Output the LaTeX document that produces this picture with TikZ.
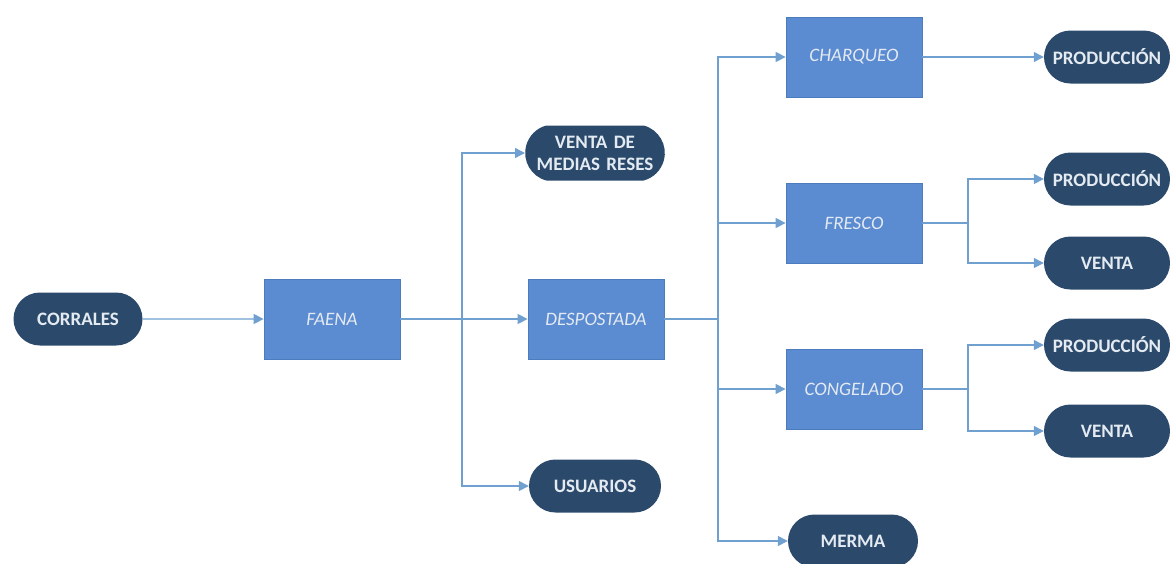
\documentclass[tikz,border=0pt]{standalone}
\usepackage{fontspec}
\setmainfont{Carlito}
\usetikzlibrary{arrows.meta,shapes.misc}

\definecolor{pillfill}{HTML}{2B4A6B}
\definecolor{boxfill}{HTML}{5B8BD1}
\definecolor{boxedge}{HTML}{4C7BBE}
\definecolor{linkc}{HTML}{6FA0D0}
\definecolor{txtc}{HTML}{E4EAF1}

\begin{document}
\begin{tikzpicture}[x=1pt,y=-1pt,>={Triangle[length=10pt,width=10pt]},
  pill/.style={rounded rectangle,fill=pillfill,text=txtc,font=\fontsize{19}{22}\selectfont\bfseries,
    minimum width=136pt,minimum height=53pt,inner sep=2pt,align=center},
  stage/.style={rectangle,fill=boxfill,draw=boxedge,line width=0.8pt,text=txtc,
    font=\fontsize{19}{22}\selectfont\itshape,minimum width=136pt,minimum height=80pt},
  link/.style={draw=linkc,line width=1.4pt}]
  \useasboundingbox (0,0) rectangle (1170,563);
  % first column
  \node[pill,minimum width=133pt] (corrales) at (78,319) {CORRALES};
  \node[stage] (faena) at (332,319) {FAENA};
  % second column
  \node[pill,minimum height=55pt,text width=124pt,rounded rectangle arc length=150] (medias) at (595,153) {VENTA DE\\MEDIAS RESES};
  \node[stage] (despostada) at (596,319) {DESPOSTADA};
  \node[pill] (usuarios) at (595,486) {USUARIOS};
  % third column
  \node[stage] (charqueo) at (854,57) {CHARQUEO};
  \node[stage] (fresco) at (854,223) {FRESCO};
  \node[stage] (congelado) at (854,389) {CONGELADO};
  \node[pill,minimum width=134pt] (merma) at (853,541) {MERMA};
  % last column
  \node[pill,minimum width=130pt] (prodA) at (1107,57) {PRODUCCIÓN};
  \node[pill,minimum width=130pt] (prodB) at (1107,179) {PRODUCCIÓN};
  \node[pill,minimum width=130pt] (ventaB) at (1107,263) {VENTA};
  \node[pill,minimum width=130pt] (prodC) at (1107,345) {PRODUCCIÓN};
  \node[pill,minimum width=130pt] (ventaC) at (1107,431) {VENTA};

  \coordinate (j1) at (462,319);
  \coordinate (j2) at (718,319);
  \coordinate (j3) at (968,223);
  \coordinate (j4) at (968,389);

  \draw[link,->] (corrales) -- (faena);
  \draw[link] (faena.east) -- (j1);
  \draw[link,->] (j1) |- (medias.west);
  \draw[link,->] (j1) -- (despostada.west);
  \draw[link,->] (j1) |- (usuarios.west);

  \draw[link] (despostada.east) -- (j2);
  \draw[link,->] (j2) |- (charqueo.west);
  \draw[link,->] (j2) |- (fresco.west);
  \draw[link,->] (j2) |- (congelado.west);
  \draw[link,->] (j2) |- (merma.west);

  \draw[link,->] (charqueo) -- (prodA);
  \draw[link] (fresco.east) -- (j3);
  \draw[link,->] (j3) |- (prodB.west);
  \draw[link,->] (j3) |- (ventaB.west);
  \draw[link] (congelado.east) -- (j4);
  \draw[link,->] (j4) |- (prodC.west);
  \draw[link,->] (j4) |- (ventaC.west);
\end{tikzpicture}
\end{document}
